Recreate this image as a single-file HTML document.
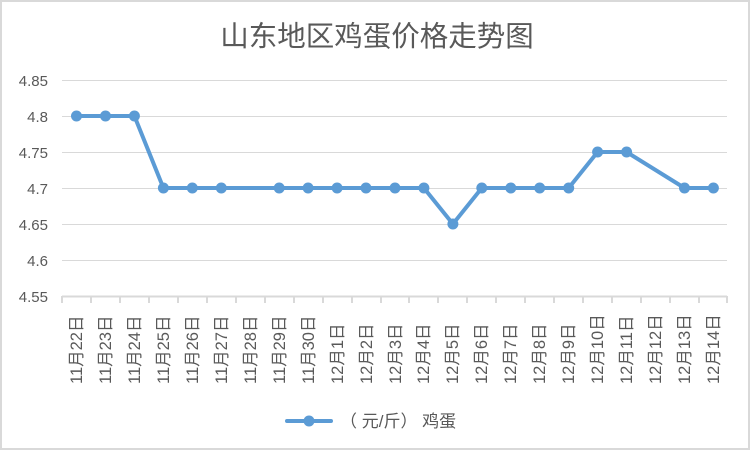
<!DOCTYPE html>
<html><head><meta charset="utf-8"><style>
html,body{margin:0;padding:0;background:#fff;}
svg{display:block;font-family:"Liberation Sans","Noto Sans CJK SC",sans-serif;}
</style></head><body>
<svg width="752" height="452" viewBox="0 0 752 452" xmlns="http://www.w3.org/2000/svg">
<rect x="1" y="1" width="748" height="448" fill="#fff" stroke="#d9d9d9" stroke-width="2"/>
<text x="377" y="46" text-anchor="middle" font-size="28.5" fill="#595959" font-family="'Noto Sans CJK SC',sans-serif">山东地区鸡蛋价格走势图</text>
<g stroke="#d9d9d9" stroke-width="1">
<line x1="62" y1="80.5" x2="727" y2="80.5"/>
<line x1="62" y1="116.5" x2="727" y2="116.5"/>
<line x1="62" y1="152.5" x2="727" y2="152.5"/>
<line x1="62" y1="188.5" x2="727" y2="188.5"/>
<line x1="62" y1="224.5" x2="727" y2="224.5"/>
<line x1="62" y1="260.5" x2="727" y2="260.5"/>
<line x1="62" y1="296.5" x2="727" y2="296.5" stroke-width="2"/>
</g>
<g stroke="#d9d9d9" stroke-width="2">
<line x1="62" y1="296" x2="62" y2="303"/><line x1="91" y1="296" x2="91" y2="303"/><line x1="120" y1="296" x2="120" y2="303"/><line x1="149" y1="296" x2="149" y2="303"/><line x1="178" y1="296" x2="178" y2="303"/><line x1="207" y1="296" x2="207" y2="303"/><line x1="236" y1="296" x2="236" y2="303"/><line x1="265" y1="296" x2="265" y2="303"/><line x1="294" y1="296" x2="294" y2="303"/><line x1="323" y1="296" x2="323" y2="303"/><line x1="352" y1="296" x2="352" y2="303"/><line x1="381" y1="296" x2="381" y2="303"/><line x1="409" y1="296" x2="409" y2="303"/><line x1="438" y1="296" x2="438" y2="303"/><line x1="467" y1="296" x2="467" y2="303"/><line x1="496" y1="296" x2="496" y2="303"/><line x1="525" y1="296" x2="525" y2="303"/><line x1="554" y1="296" x2="554" y2="303"/><line x1="583" y1="296" x2="583" y2="303"/><line x1="612" y1="296" x2="612" y2="303"/><line x1="641" y1="296" x2="641" y2="303"/><line x1="670" y1="296" x2="670" y2="303"/><line x1="699" y1="296" x2="699" y2="303"/><line x1="727" y1="296" x2="727" y2="303"/>
</g>
<g font-size="15" fill="#595959" text-anchor="end">
<text x="48" y="86">4.85</text><text x="48" y="122">4.8</text><text x="48" y="158">4.75</text><text x="48" y="194">4.7</text><text x="48" y="230">4.65</text><text x="48" y="266">4.6</text><text x="48" y="302">4.55</text>
</g>
<g font-size="16.5" fill="#595959">
<text transform="translate(82,384) rotate(-90)">11月22日</text>
<text transform="translate(111,384) rotate(-90)">11月23日</text>
<text transform="translate(140,384) rotate(-90)">11月24日</text>
<text transform="translate(169,384) rotate(-90)">11月25日</text>
<text transform="translate(198,384) rotate(-90)">11月26日</text>
<text transform="translate(227,384) rotate(-90)">11月27日</text>
<text transform="translate(256,384) rotate(-90)">11月28日</text>
<text transform="translate(285,384) rotate(-90)">11月29日</text>
<text transform="translate(314,384) rotate(-90)">11月30日</text>
<text transform="translate(343,384) rotate(-90)">12月1日</text>
<text transform="translate(372,384) rotate(-90)">12月2日</text>
<text transform="translate(401,384) rotate(-90)">12月3日</text>
<text transform="translate(429,384) rotate(-90)">12月4日</text>
<text transform="translate(458,384) rotate(-90)">12月5日</text>
<text transform="translate(487,384) rotate(-90)">12月6日</text>
<text transform="translate(516,384) rotate(-90)">12月7日</text>
<text transform="translate(545,384) rotate(-90)">12月8日</text>
<text transform="translate(574,384) rotate(-90)">12月9日</text>
<text transform="translate(603,384) rotate(-90)">12月10日</text>
<text transform="translate(632,384) rotate(-90)">12月11日</text>
<text transform="translate(661,384) rotate(-90)">12月12日</text>
<text transform="translate(690,384) rotate(-90)">12月13日</text>
<text transform="translate(719,384) rotate(-90)">12月14日</text>
</g>
<polyline fill="none" stroke="#5b9bd5" stroke-width="4" stroke-linejoin="round" stroke-linecap="round" points="76.5,116 105.5,116 134.4,116 163.4,188 192.3,188 221.3,188 279.2,188 308.1,188 337.1,188 366,188 395,188 423.9,188 452.9,224 481.8,188 510.8,188 539.7,188 568.7,188 597.6,152 626.6,152 684.5,188 713.4,188"/>
<g fill="#5b9bd5">
<circle cx="76.5" cy="116" r="5.5"/><circle cx="105.5" cy="116" r="5.5"/><circle cx="134.4" cy="116" r="5.5"/><circle cx="163.4" cy="188" r="5.5"/><circle cx="192.3" cy="188" r="5.5"/><circle cx="221.3" cy="188" r="5.5"/><circle cx="279.2" cy="188" r="5.5"/><circle cx="308.1" cy="188" r="5.5"/><circle cx="337.1" cy="188" r="5.5"/><circle cx="366" cy="188" r="5.5"/><circle cx="395" cy="188" r="5.5"/><circle cx="423.9" cy="188" r="5.5"/><circle cx="452.9" cy="224" r="5.5"/><circle cx="481.8" cy="188" r="5.5"/><circle cx="510.8" cy="188" r="5.5"/><circle cx="539.7" cy="188" r="5.5"/><circle cx="568.7" cy="188" r="5.5"/><circle cx="597.6" cy="152" r="5.5"/><circle cx="626.6" cy="152" r="5.5"/><circle cx="684.5" cy="188" r="5.5"/><circle cx="713.4" cy="188" r="5.5"/>
</g>
<line x1="287" y1="421" x2="331" y2="421" stroke="#5b9bd5" stroke-width="4" stroke-linecap="round"/>
<circle cx="309" cy="421" r="5.5" fill="#5b9bd5"/>
<text x="340" y="427" font-size="17" fill="#595959" xml:space="preserve">（ 元/斤） 鸡蛋</text>
</svg>
</body></html>
